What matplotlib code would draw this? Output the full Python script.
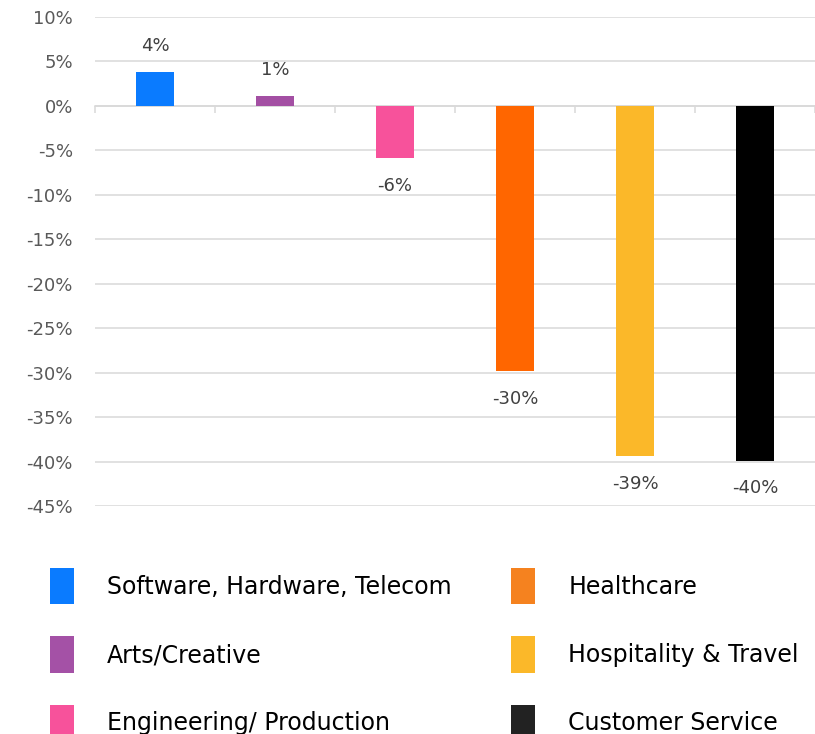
import numpy as np
import matplotlib
matplotlib.use("Agg")
import matplotlib.pyplot as plt
from matplotlib.patches import Patch

categories = ["Software, Hardware, Telecom", "Arts/Creative", "Engineering/ Production",
              "Healthcare", "Hospitality & Travel", "Customer Service"]
values = [3.8, 1.1, -5.85, -29.8, -39.4, -39.9]
labels = ["4%", "1%", "-6%", "-30%", "-39%", "-40%"]
bar_colors = ["#0A7BFF", "#A34FA3", "#F7529B", "#FF6600", "#FBB829", "#000000"]
legend_colors = ["#0A7BFF", "#A451A6", "#F7529B", "#F5821F", "#FBB829", "#222222"]
yticks = np.arange(-45, 11, 5)

fig = plt.figure(figsize=(8.15, 7.34), dpi=100, facecolor="white")
ax = fig.add_axes([95 / 815, 1 - 506 / 734, 1 - 95 / 815, (506 - 17) / 734])

x = np.arange(len(categories))
ax.bar(x, values, width=0.32, color=bar_colors, zorder=3)
for xi, v, lab in zip(x, values, labels):
    off = 19 if v > 0 else -20
    ax.annotate(lab, (xi, v), xytext=(0, off), textcoords="offset points",
                ha="center", va="center", fontsize=13, color="#404040")

ax.set_xlim(-0.5, len(categories) - 0.5)
ax.set_ylim(-45, 10)
ax.set_yticks(yticks)
ax.set_yticklabels([f"{t}%" for t in yticks], fontsize=13, color="#595959")
ax.grid(axis="y", color="#d9d9d9", lw=1.1, zorder=0)
ax.tick_params(axis="y", length=0, pad=16)

for s in ["top", "right", "left"]:
    ax.spines[s].set_visible(False)
ax.spines["bottom"].set_position(("data", 0))
ax.spines["bottom"].set_color("#d9d9d9")
ax.spines["bottom"].set_linewidth(1.1)
ax.spines["bottom"].set_zorder(2)
ax.set_xticks(np.arange(-0.5, len(categories), 1.0))
ax.set_xticklabels([])
ax.tick_params(axis="x", direction="out", length=5, width=1.1, color="#d9d9d9")

handles = [Patch(facecolor=c, edgecolor="none") for c in legend_colors]
fig.legend(handles, categories, loc="upper left", ncol=2, frameon=False,
           bbox_to_anchor=(50 / 815, 1 - 568 / 734), borderaxespad=0, borderpad=0,
           fontsize=17, handlelength=1.0, handleheight=2.0, handletextpad=1.4,
           labelspacing=1.35, columnspacing=2.55)

fig.savefig("out.png", dpi=100)
